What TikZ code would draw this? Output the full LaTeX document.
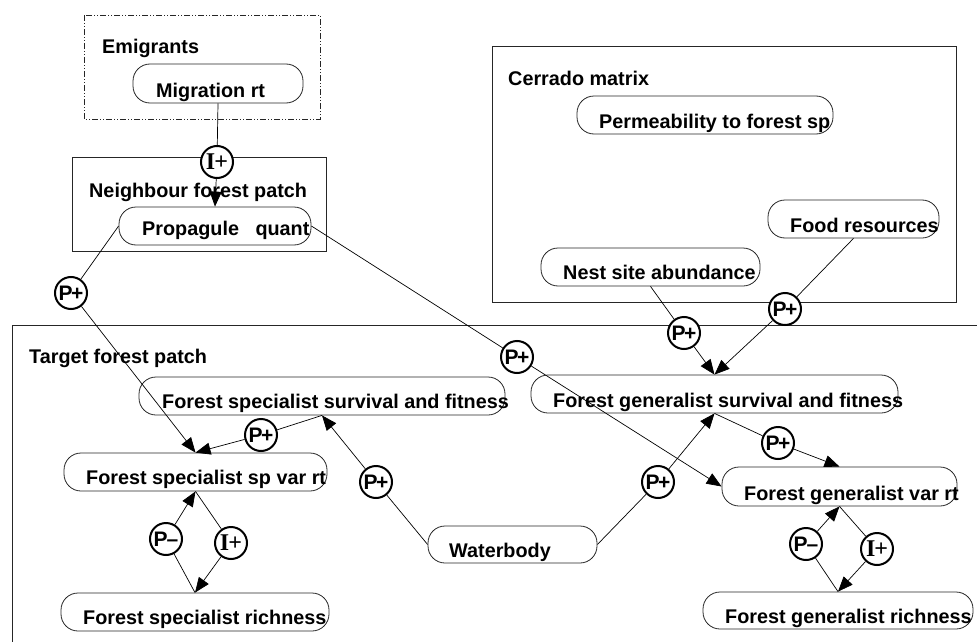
\documentclass[tikz,border=0pt]{standalone}
\usepackage{fontspec}
\setmainfont{Liberation Sans}
\newfontfamily\serifb{Liberation Serif}
\usetikzlibrary{arrows.meta}
\begin{document}
\begin{tikzpicture}[x=1pt,y=-1pt,
  frame/.style={draw=black!85,line width=0.9pt},
  rbox/.style={draw=black!85,line width=0.8pt,rounded corners=17pt,inner sep=0pt},
  lbl/.style={inner sep=0pt,anchor=base west,font=\fontsize{19.8}{22}\selectfont\bfseries},
  conn/.style={draw=black,line width=0.7pt},
  arr/.style={conn,-{Triangle[length=15pt,width=12pt]}},
  sign/.style={circle,draw=black,line width=2pt,fill=white,minimum size=32pt,inner sep=0pt,font=\fontsize{21}{21}\selectfont\bfseries},
  isign/.style={sign,font=\serifb\fontsize{24}{24}\selectfont\bfseries}
]
\useasboundingbox (0,0) rectangle (977,642);
% frames
\draw[frame,dash pattern=on 6pt off 2pt on 1pt off 2pt on 1pt off 2pt] (84,15) rectangle (320,119);
\draw[frame] (72,157) rectangle (326,251);
\draw[frame] (492,46) rectangle (956,302);
\draw[frame] (977,325) -- (12,325) -- (12,642);
\node[lbl] (tEm) at (102,53) {Emigrants};
\node[lbl] (tNb) at (89,197) {Neighbour forest patch};
\node[lbl] (tCe) at (508,85) {Cerrado matrix};
\node[lbl] (tTa) at (29,363) {Target forest patch};
% rounded boxes
\node[rbox,minimum width=170pt,minimum height=39pt] (migr) at (218,83.5) {};
\node[rbox,minimum width=192pt,minimum height=38pt] (prop) at (215,226) {};
\node[rbox,minimum width=256pt,minimum height=38pt] (perm) at (705,115) {};
\node[rbox,minimum width=171pt,minimum height=38pt] (food) at (853.5,219) {};
\node[rbox,minimum width=219pt,minimum height=38pt] (nest) at (650.5,267) {};
\node[rbox,minimum width=366pt,minimum height=38pt] (fss) at (322,396) {};
\node[rbox,minimum width=263pt,minimum height=38pt] (fsvar) at (195.5,472) {};
\node[rbox,minimum width=268pt,minimum height=38pt] (fsrich) at (195,612) {};
\node[rbox,minimum width=169pt,minimum height=37pt] (water) at (512.5,544.5) {};
\node[rbox,minimum width=367pt,minimum height=38pt] (fgs) at (714.5,394) {};
\node[rbox,minimum width=235pt,minimum height=39pt] (fgvar) at (839.5,486.5) {};
\node[rbox,minimum width=270pt,minimum height=37pt] (fgrich) at (838,610.5) {};
% box texts
\node[lbl] (migrT) at (156,97) {Migration rt};
\node[lbl] (propT) at (142,235) {Propagule\ \ \ quant};
\node[lbl] (permT) at (599,128) {Permeability to forest sp};
\node[lbl] (foodT) at (790,232) {Food resources};
\node[lbl] (nestT) at (563,279) {Nest site abundance};
\node[lbl] (fssT) at (162,408) {Forest specialist survival and fitness};
\node[lbl] (fsvarT) at (86,484) {Forest specialist sp var rt};
\node[lbl] (fsrichT) at (83,624) {Forest specialist richness};
\node[lbl] (waterT) at (449,557) {Waterbody};
\node[lbl] (fgsT) at (553,407) {Forest generalist survival and fitness};
\node[lbl] (fgvarT) at (744,500) {Forest generalist var rt};
\node[lbl] (fgrichT) at (725,623) {Forest generalist richness};
% sign circles
\node[isign] (s1) at (217,162) {I\kern-1pt+};
\node[sign] (s2) at (71,293) {P\kern-1.5pt+};
\node[sign] (s3) at (517,357) {P\kern-1.5pt+};
\node[sign] (s4) at (684,333) {P\kern-1.5pt+};
\node[sign] (s5) at (785,309) {P\kern-1.5pt+};
\node[sign] (s6) at (261,435) {P\kern-1.5pt+};
\node[sign] (s7) at (376,482) {P\kern-1.5pt+};
\node[sign] (s8) at (658,482) {P\kern-1.5pt+};
\node[sign] (s9) at (778,443) {P\kern-1.5pt+};
\node[sign] (s10) at (166,539) {P\kern-1pt--};
\node[isign] (s11) at (231,543) {I\kern-1pt+};
\node[sign] (s12) at (806,544) {P\kern-1pt--};
\node[isign] (s13) at (877,549) {I\kern-1pt+};
% connectors
\draw[conn] (migr.south) -- (s1);
\draw[arr] (s1) -- (prop.north);
\draw[conn] (prop.west) -- (s2);
\draw[arr] (s2) -- (fsvar.north);
\draw[conn] (prop.east) -- (s3);
\draw[arr] (s3) -- (fgvar.west);
\draw[conn] (nest.south) -- (s4);
\draw[arr] (s4) -- (fgs.north);
\draw[conn] (food.south) -- (s5);
\draw[arr] (s5) -- (fgs.north);
\draw[conn] (fss.south) -- (s6);
\draw[arr] (s6) -- (fsvar.north);
\draw[conn] (water.west) -- (s7);
\draw[arr] (s7) -- (fss.south);
\draw[conn] (water.east) -- (s8);
\draw[arr] (s8) -- (fgs.south);
\draw[conn] (fgs.south) -- (s9);
\draw[arr] (s9) -- (fgvar.north);
\draw[conn] (fsrich.north) -- (s10);
\draw[arr] (s10) -- (fsvar.south);
\draw[conn] (fsvar.south) -- (s11);
\draw[arr] (s11) -- (fsrich.north);
\draw[conn] (fgrich.north) -- (s12);
\draw[arr] (s12) -- (fgvar.south);
\draw[conn] (fgvar.south) -- (s13);
\draw[arr] (s13) -- (fgrich.north);
\end{tikzpicture}
\end{document}
